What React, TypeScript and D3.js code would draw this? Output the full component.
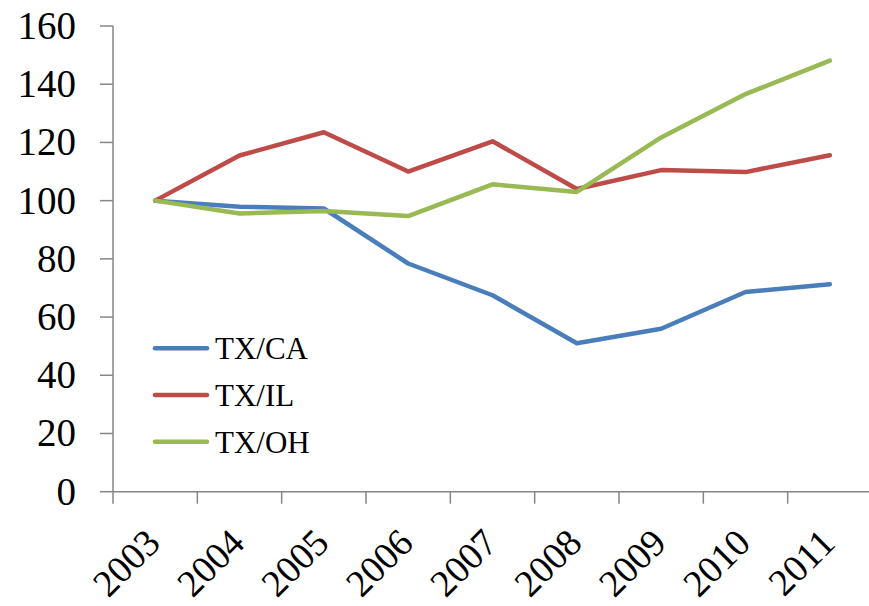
import * as d3 from "d3";

const years = ["2003", "2004", "2005", "2006", "2007", "2008", "2009", "2010", "2011"];
const txCa = [100, 97.9, 97.3, 78.4, 67.5, 51.0, 56.0, 68.6, 71.3];
const txIl = [100, 115.5, 123.5, 110.0, 120.4, 104.0, 110.5, 109.8, 115.6];
const txOh = [100, 95.6, 96.4, 94.7, 105.6, 103.0, 121.7, 136.6, 148.1];
const yTicks = [0, 20, 40, 60, 80, 100, 120, 140, 160];

const seriesNames = ["TX/CA", "TX/IL", "TX/OH"];
const seriesColors = ["#4a7ebb", "#be4b48", "#98b954"];

const W = 869;
const H = 606;
const left = 113;
const right = 872;
const top = 26;
const bottom = 491.7;
const font = "'Liberation Serif', 'Times New Roman', serif";
const axisColor = "#868686";

export default function App() {
  const x = d3.scaleBand<string>().domain(years).range([left, right]).padding(0);
  const y = d3.scaleLinear().domain([0, 160]).range([bottom, top]);
  const cx = (yr: string) => (x(yr) as number) + x.bandwidth() / 2;

  const series = [txCa, txIl, txOh];
  const line = d3
    .line<number>()
    .x((_, i) => cx(years[i]))
    .y((d) => y(d));

  // Category boundaries for tick marks
  const tickXs = years.map((yr) => x(yr) as number).concat([right]);

  return (
    <svg
      width={W}
      height={H}
      style={{ position: "absolute", left: 0, top: 0, background: "#fff" }}
      fontFamily={font}
    >
      {/* Y axis */}
      <line x1={left} x2={left} y1={top} y2={bottom} stroke={axisColor} strokeWidth={1.5} />
      {yTicks.map((t) => (
        <g key={t}>
          <line x1={100} x2={left} y1={y(t)} y2={y(t)} stroke={axisColor} strokeWidth={1.5} />
          <text x={76} y={y(t)} dy={13} textAnchor="end" fontSize={39} fill="#000">
            {t}
          </text>
        </g>
      ))}

      {/* X axis */}
      <line x1={left} x2={right} y1={bottom} y2={bottom} stroke={axisColor} strokeWidth={1.5} />
      {tickXs.map((tx, i) => (
        <line key={i} x1={tx} x2={tx} y1={bottom} y2={bottom + 12} stroke={axisColor} strokeWidth={1.5} />
      ))}
      {years.map((yr) => (
        <text
          key={yr}
          transform={`translate(${cx(yr) + 7},${545}) rotate(-45)`}
          textAnchor="end"
          fontSize={38}
          fill="#000"
        >
          {yr}
        </text>
      ))}

      {/* Lines */}
      {series.map((s, i) => (
        <path
          key={seriesNames[i]}
          d={line(s) as string}
          fill="none"
          stroke={seriesColors[i]}
          strokeWidth={4.5}
          strokeLinejoin="round"
          strokeLinecap="round"
        />
      ))}

      {/* Legend */}
      {seriesNames.map((n, i) => {
        const ly = 348.3 + i * 46.7;
        return (
          <g key={n}>
            <line x1={155} x2={207} y1={ly} y2={ly} stroke={seriesColors[i]} strokeWidth={4.5} strokeLinecap="round" />
            <text x={215} y={ly + 11} fontSize={31} fill="#000">
              {n}
            </text>
          </g>
        );
      })}
    </svg>
  );
}
